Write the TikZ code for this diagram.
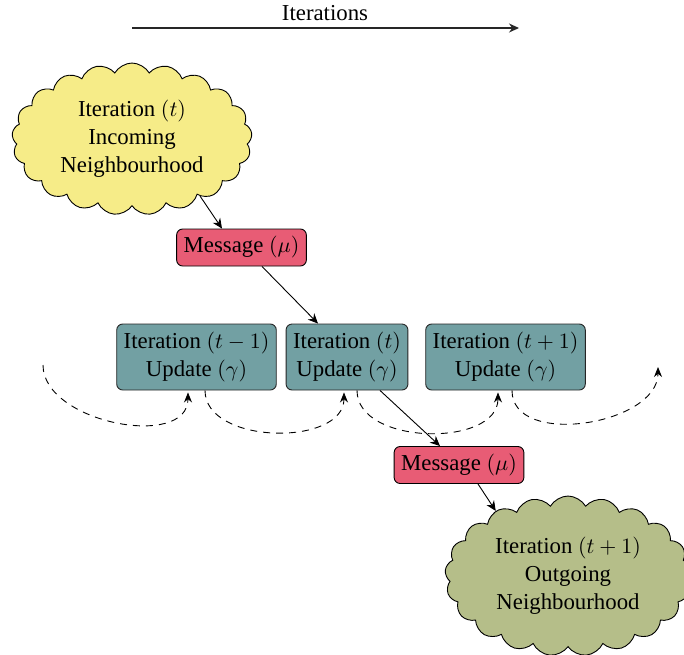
\documentclass[tikz,border=0pt]{standalone}
\usepackage[no-math]{fontspec}
\setmainfont{Liberation Serif}
\usetikzlibrary{shapes.symbols,arrows.meta,calc}
\definecolor{cloudyellow}{RGB}{246,236,136}
\definecolor{msgred}{RGB}{232,92,117}
\definecolor{updteal}{RGB}{114,160,163}
\definecolor{cloudolive}{RGB}{181,190,137}
\tikzset{
  every node/.style={font=\fontsize{11.4}{14}\selectfont, align=center},
  cloudnode/.style={cloud, cloud puffs=21, cloud puff arc=120, cloud ignores aspect, draw=black, line width=0.45pt, inner sep=0pt},
  msgbox/.style={draw=black, fill=msgred, rounded corners=3pt, inner xsep=3.5pt, minimum height=18.5pt, line width=0.45pt},
  updbox/.style={draw=black!85, fill=updteal, rounded corners=3pt, inner xsep=3.5pt, minimum height=33pt, line width=0.45pt},
  conn/.style={-{Stealth[length=5pt,width=4.5pt]}, line width=0.45pt},
  dconn/.style={-{Stealth[length=5pt,width=4pt]}, dash pattern=on 3.5pt off 3pt, line width=0.45pt}
}
\begin{document}
\begin{tikzpicture}[x=0.5pt, y=-0.5pt]
\useasboundingbox (0,0) rectangle (684,654);
% top arrow
\node (itlab) at (325,13) {Iterations};
\coordinate (ta) at (132,28);
\coordinate (tb) at (519,28);
\draw[-{Stealth[length=5pt,width=4.5pt]}, line width=0.6pt, black!85] (ta) -- (tb);
% clouds
\node[cloudnode, fill=cloudyellow, minimum width=120pt, minimum height=76pt] (c1) at (132,139)
  {Iteration $(t)$\\Incoming\\Neighbourhood};
\node[cloudnode, fill=cloudolive, minimum width=123pt, minimum height=80pt] (c2) at (568,576)
  {Iteration $(t+1)$\\Outgoing\\Neighbourhood};
% messages
\node[msgbox] (m1) at (241.5,247.5) {Message $(\mu)$};
\node[msgbox] (m2) at (459,465) {Message $(\mu)$};
% updates
\node[updbox] (u1) at (196.5,357) {Iteration $(t-1)$\\Update $(\gamma)$};
\node[updbox] (u2) at (347,357) {Iteration $(t)$\\Update $(\gamma)$};
\node[updbox] (u3) at (505.5,357) {Iteration $(t+1)$\\Update $(\gamma)$};
% connectors
\draw[conn] (c1.-40) -- ([xshift=-9.75pt]m1.north);
\draw[conn] ([xshift=10.25pt]m1.south) -- ([xshift=-14.5pt]u2.north);
\draw[conn] ([xshift=16.5pt]u2.south) -- ([xshift=-9.5pt]m2.north);
\draw[conn] ([xshift=9.5pt]m2.south) -- (c2.138);
% dashed recurrences
\coordinate (L) at (43,365);
\coordinate (R) at (658,367);
\draw[dconn] (L) to[out=-90,in=-90] ([xshift=-4.25pt,yshift=-1pt]u1.south);
\draw[dconn] ([xshift=4.25pt]u1.south) to[out=-90,in=-90] ([xshift=-1.5pt,yshift=-1pt]u2.south);
\draw[dconn] ([xshift=5pt]u2.south) to[out=-90,in=-90] ([xshift=-3.75pt,yshift=-1pt]u3.south);
\draw[dconn] ([xshift=3.25pt]u3.south) to[out=-90,in=-90] (R);
\end{tikzpicture}
\end{document}
